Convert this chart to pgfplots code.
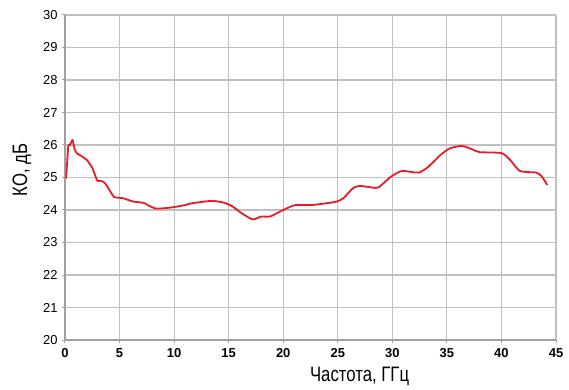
\documentclass[border=0pt]{standalone}
\usepackage{fontspec}
\setmainfont{Liberation Sans}
\newfontfamily\condensed[FakeStretch=0.8]{Liberation Sans}
\usepackage{pgfplots}
\pgfplotsset{compat=1.18}
\definecolor{curve}{RGB}{232,28,36}
\definecolor{gridc}{RGB}{192,192,192}
\definecolor{axc}{RGB}{160,160,160}

\begin{document}
\begin{tikzpicture}
\begin{axis}[
  width=491bp, height=325bp, scale only axis,
  xmin=0, xmax=45, ymin=20, ymax=30,
  xtick={0,5,...,45}, ytick={20,21,...,30},
  axis lines=left,
  axis line style={axc, line width=1.3bp, -},
  grid=major,
  major grid style={gridc, line width=1.1bp},
  tick style={axc, line width=1bp},
  tick align=outside, major tick length=3bp,
  /pgf/number format/assume math mode=true,
  xticklabel style={font=\fontsize{13}{15}\selectfont\bfseries, yshift=-2bp},
  yticklabel style={font=\fontsize{13}{15}\selectfont, xshift=-1bp},
  xlabel={Частота, ГГц}, ylabel={КО, дБ},
  label style={font=\condensed\fontsize{21}{24}\selectfont},
  xlabel style={at={(axis description cs:0.6,-0.111)}, anchor=center},
  ylabel style={at={(axis description cs:-0.0876,0.523)}, anchor=center},
]
\addplot[curve, line width=1.8bp, smooth, tension=0.4] coordinates {
  (0.1,24.97) (0.3,25.95) (0.46,26.0) (0.6,26.1) (0.7,26.15) (0.9,25.85)
  (1.07,25.75) (1.5,25.66) (2.0,25.54) (2.45,25.33) (2.75,25.08) (2.96,24.9)
  (3.2,24.9) (3.5,24.87) (3.8,24.77) (4.1,24.6) (4.5,24.4) (4.9,24.38)
  (5.35,24.36) (5.8,24.31) (6.26,24.26) (7.2,24.22) (7.6,24.15) (8.25,24.05)
  (8.9,24.05) (9.8,24.08) (11.0,24.15) (11.5,24.2) (13.4,24.28) (14.5,24.23)
  (15.3,24.12) (16.2,23.9) (17.2,23.71) (18.0,23.8) (18.8,23.8) (20.0,24.0)
  (21.1,24.15) (22.5,24.15) (23.8,24.2) (24.9,24.26) (25.5,24.36) (26.4,24.67)
  (27.0,24.74) (28.0,24.7) (28.7,24.69) (29.9,25.03) (30.9,25.2) (32.4,25.15)
  (33.3,25.33) (34.4,25.69) (35.3,25.9) (36.4,25.97) (37.3,25.87) (38.0,25.78)
  (40.0,25.75) (40.8,25.54) (41.7,25.2) (43.2,25.15) (43.7,25.03) (44.2,24.77)
};
\end{axis}
\useasboundingbox ([shift={(-65bp,-50bp)}]current axis.south west)
  rectangle ([shift={(13bp,15bp)}]current axis.north east);
\end{tikzpicture}
\end{document}
